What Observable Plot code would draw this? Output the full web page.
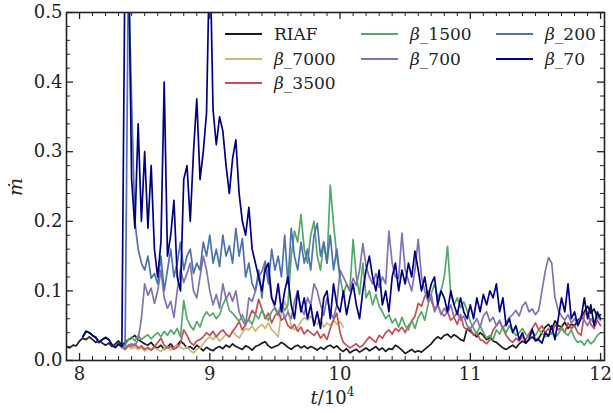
<!DOCTYPE html>
<html><head><meta charset="utf-8">
<script src="https://cdn.jsdelivr.net/npm/d3@7"></script>
<script src="https://cdn.jsdelivr.net/npm/@observablehq/plot@0.6"></script>
<style>
body{margin:0;background:#fff;}
#wrap{position:relative;width:613px;height:413px;font-family:"DejaVu Serif","Liberation Serif","Noto Serif",serif;color:#222;overflow:hidden;}
.leg{position:absolute;display:flex;align-items:center;font-size:17px;line-height:1;white-space:nowrap;}
.leg .sw{display:inline-block;width:37px;height:0;border-top:2px solid;margin-right:12px;}
.xl{position:absolute;left:0;width:613px;text-align:center;top:387px;font-size:18px;padding-left:52px;box-sizing:border-box;}
.yl{position:absolute;left:6px;top:176px;font-size:19px;font-style:italic;transform:rotate(-90deg);}
</style></head><body><div id="wrap"></div>
<script>
// time grid: start 7.9, step 0.025, 165 samples up to 12.0
const tStart = 7.9, tStep = 0.025;
const names = ["RIAF", "β_7000", "β_3500", "β_1500", "β_700", "β_200", "β_70"];
const colors = ["#1a1a1a", "#ccb974", "#c44e52", "#55a868", "#8172b2", "#4c72b0", "#000080"];

const riaf = [.020,.018,.022,.021,
 .028,.032,.030,.034,.030,.026,.028,.025,
 .022,.025,.020,.024,.028,.022,.026,.030,
 .032,.036,.030,.027,.024,.022,.026,.020,
 .018,.022,.016,.020,.024,.018,.022,.028,
 .024,.018,.020,.016,.022,.018,.014,.019,
 .016,.014,.018,.020,.017,.022,.019,.024,
 .020,.018,.016,.021,.019,.015,.020,.022,
 .025,.027,.021,.018,.020,.022,.026,.023,
 .019,.016,.020,.022,.018,.021,.017,.020,
 .018,.015,.019,.016,.020,.022,.018,.021,
 .016,.013,.017,.011,.014,.016,.012,.015,
 .018,.014,.017,.020,.015,.018,.013,.017,
 .016,.022,.019,.015,.010,.013,.016,.012,
 .014,.012,.016,.020,.024,.030,.034,.031,
 .036,.038,.033,.037,.034,.030,.028,.046,
 .042,.038,.034,.040,.036,.030,.033,.028,
 .026,.022,.018,.016,.019,.022,.018,.024,
 .028,.025,.030,.034,.029,.032,.040,.048,
 .052,.045,.057,.050,.048,.055,.046,.052,
 .050,.058,.062,.070,.078,.068,.074,.062,
 .066];

const b7000 = [null,null,null,null,
 null,.034,.042,.040,.036,.033,.026,.030,
 .033,.030,.022,.019,.022,.018,.016,.020,
 .017,.019,.016,.018,.014,.017,.015,.018,
 .016,.013,.017,.020,.015,.018,.022,.019,
 .016,.020,.014,.011,.016,.018,.024,.030,
 .034,.030,.036,.028,.032,.038,.034,.042,
 .036,.032,.040,.046,.044,.050,.042,.048,
 .052,.046,.054,.044,.040,.034,.070,.085,
 .072,.050,.044,.048,.056,.062,.058,.064,
 .056,.052,.060,.048,.054,.050,.058,.052,
 .056,.048,null,null,null,null,null,null,
 null,null,null,null,null,null,null,null,
 null,null,null,null,null,null,null,null,
 null,null,null,null,null,null,null,null,
 null,null,null,null,null,null,null,null,
 null,null,null,null,null,null,null,null,
 null,null,null,null,null,null,null,null,
 null,null,null,null,null,null,null,null,
 null,null,null,null,null,null,null,null,
 null,null,null,null,null,null,null,null,
 null];

const b3500 = [null,null,null,null,
 null,.034,.042,.040,.036,.033,.026,.030,
 .033,.030,.022,.019,.024,.020,.016,.022,
 .020,.024,.018,.021,.016,.019,.015,.020,
 .026,.032,.022,.018,.020,.016,.019,.025,
 .044,.036,.026,.022,.028,.030,.034,.040,
 .036,.042,.034,.040,.044,.038,.034,.042,
 .048,.056,.044,.052,.060,.072,.066,.088,
 .074,.060,.068,.054,.064,.070,.058,.062,
 .050,.046,.052,.042,.048,.038,.044,.040,
 .036,.042,.032,.038,.030,.046,.058,.068,
 .040,.026,.022,.018,.021,.024,.019,.022,
 .028,.034,.030,.026,.036,.032,.040,.044,
 .038,.046,.042,.048,.040,.050,.056,.064,
 .082,.078,.092,.100,.086,.074,.080,.068,
 .064,.070,.058,.062,.052,.066,.048,.044,
 .046,.036,.040,.030,.028,.024,.030,.044,
 .050,.056,.046,.036,.030,.026,.032,.028,
 .034,.030,.038,.046,.054,.044,.050,.040,
 .046,.038,.052,.044,.048,.040,.054,.046,
 .050,.040,.036,.066,.070,.052,.046,.058,
 .050];

const b1500 = [null,null,null,null,
 null,.034,.042,.040,.036,.033,.026,.030,
 .033,.030,.022,.019,.024,.020,.022,.030,
 .034,.028,.036,.030,.034,.037,.031,.036,
 .040,.034,.042,.036,.044,.038,.046,.034,
 .086,.060,.050,.044,.056,.048,.062,.070,
 .064,.068,.060,.066,.080,.090,.072,.068,
 .062,.056,.066,.054,.058,.052,.066,.060,
 .072,.064,.058,.070,.076,.068,.082,.072,
 .080,.150,.186,.170,.210,.160,.140,.180,
 .200,.150,.130,.170,.140,.252,.196,.150,
 .120,.095,.110,.100,.174,.120,.095,.140,
 .090,.100,.080,.095,.078,.070,.060,.066,
 .054,.060,.048,.062,.050,.044,.058,.046,
 .062,.070,.058,.080,.096,.110,.090,.100,
 .120,.164,.095,.080,.090,.076,.084,.072,
 .056,.046,.038,.050,.040,.032,.036,.030,
 .044,.038,.048,.040,.050,.042,.036,.040,
 .046,.038,.034,.042,.036,.044,.040,.034,
 .036,.040,.034,.038,.046,.040,.036,.044,
 .032,.026,.028,.022,.030,.024,.028,.036,
 .040];

const b700 = [null,null,null,null,
 null,.034,.042,.040,.036,.033,.026,.030,
 .033,.030,.022,.019,.024,.020,.018,.022,
 .024,.021,.030,.060,.110,.094,.104,.082,
 .100,.130,.090,.075,.085,.062,.100,.132,
 .112,.125,.140,.100,.090,.120,.150,.130,
 .100,.080,.095,.075,.110,.088,.098,.085,
 .100,.070,.058,.050,.090,.085,.100,.120,
 .128,.143,.120,.090,.075,.065,.080,.060,
 .070,.060,.085,.100,.075,.066,.090,.080,
 .110,.100,.080,.065,.090,.070,.060,.080,
 .130,.120,.110,.100,.118,.108,.130,.168,
 .135,.120,.110,.125,.105,.120,.110,.186,
 .140,.120,.118,.183,.130,.115,.100,.130,
 .174,.120,.100,.085,.095,.070,.080,.066,
 .075,.068,.080,.062,.070,.058,.064,.050,
 .046,.052,.060,.048,.064,.070,.056,.062,
 .050,.058,.046,.054,.062,.066,.072,.064,
 .078,.084,.070,.074,.066,.072,.100,.128,
 .148,.140,.090,.072,.064,.058,.066,.054,
 .060,.052,.064,.058,.050,.060,.054,.062,
 .058];

const b200 = [null,null,null,null,
 null,.034,.042,.040,.036,.033,.026,.030,
 .033,.030,.022,.019,.024,.020,.022,.560,
 .370,.200,.160,.140,.130,.150,.118,.125,
 .110,.150,.100,.130,.160,.120,.140,.170,
 .130,.150,.160,.125,.140,.130,.170,.150,
 .180,.140,.160,.135,.180,.150,.165,.140,
 .190,.150,.175,.120,.140,.110,.100,.130,
 .090,.140,.110,.160,.130,.150,.120,.180,
 .110,.190,.150,.130,.170,.140,.160,.130,
 .180,.197,.150,.170,.140,.180,.130,.160,
 .120,null,null,null,null,null,null,null,
 null,null,null,null,null,null,null,null,
 null,null,null,null,null,null,null,null,
 null,null,null,null,null,null,null,null,
 null,null,null,null,null,null,null,null,
 null,null,null,null,null,null,null,null,
 null,null,null,null,null,null,null,null,
 null,null,null,null,null,null,null,null,
 null,null,null,null,null,null,null,null,
 null,null,null,null,null,null,null,null,
 null];

const b70 = [null,null,null,null,
 null,.034,.042,.040,.036,.033,.026,.030,
 .033,.030,.022,.019,.024,.020,.600,.600,
 .260,.190,.340,.200,.300,.190,.280,.160,
 .120,.170,.400,.150,.180,.230,.120,.100,
 .260,.280,.200,.300,.376,.260,.300,.356,
 .600,.360,.310,.350,.330,.280,.240,.290,
 .317,.240,.200,.180,.220,.160,.140,.120,
 .100,.130,.140,.090,.080,.110,.070,.100,
 .120,.080,.060,.100,.070,.090,.060,.080,
 .050,.070,.046,.090,.100,.060,.110,.080,
 .070,.100,.066,.090,.110,.080,.060,.100,
 .130,.150,.120,.100,.130,.080,.100,.070,
 .120,.140,.100,.130,.110,.140,.120,.157,
 .130,.100,.120,.090,.110,.120,.080,.100,
 .090,.070,.100,.080,.066,.090,.070,.060,
 .080,.060,.090,.070,.095,.080,.100,.090,
 .110,.070,.090,.050,.060,.040,.050,.030,
 .040,.025,.030,.045,.028,.030,.025,.040,
 .035,.050,.030,.060,.090,.070,.110,.060,
 .070,.050,.060,.090,.060,.080,.050,.070,
 .060];

const seriesValues = [riaf, b7000, b3500, b1500, b700, b200, b70];
const xTickLabels = [8, 9, 10, 11, 12];
const yTickLabels = [0.0, 0.1, 0.2, 0.3, 0.4, 0.5];

const rows = [];
seriesValues.forEach((vals, s) => {
  vals.forEach((v, i) => rows.push({t: +(tStart + tStep * i).toFixed(3), v, name: names[s]}));
});

const xDom = [7.9, 12.03], yDom = [0, 0.5];
const W = 613, H = 413, mL = 66, mR = 9, mT = 12, mB = 53;
const xPerPx = (xDom[1] - xDom[0]) / (W - mL - mR);
const yPerPx = (yDom[1] - yDom[0]) / (H - mT - mB);
const xMinor = d3.range(79, 121).map(d => d / 10).filter(d => Math.abs(d - Math.round(d)) > 1e-6);
const yMinor = d3.range(1, 25).map(d => d / 50).filter(d => Math.abs(d * 10 - Math.round(d * 10)) > 1e-6);
const tickCol = "#222";
const serif = "'DejaVu Serif', 'Liberation Serif', 'Noto Serif', serif";

const chart = Plot.plot({
  width: W, height: H,
  marginLeft: mL, marginRight: mR, marginTop: mT, marginBottom: mB,
  style: {fontFamily: serif, fontSize: "18px", color: "#222", background: "#fff"},
  x: {domain: xDom},
  y: {domain: yDom},
  color: {domain: names, range: colors},
  marks: [
    Plot.line(rows, {x: "t", y: "v", z: "name", stroke: "name", strokeWidth: 1.7, clip: true, curve: "linear"}),
    Plot.ruleX(xTickLabels, {x: d => d, y1: 0, y2: 7 * yPerPx, stroke: tickCol, strokeWidth: 1.3}),
    Plot.ruleX(xTickLabels, {x: d => d, y1: 0.5 - 7 * yPerPx, y2: 0.5, stroke: tickCol, strokeWidth: 1.3}),
    Plot.ruleX(xMinor, {x: d => d, y1: 0, y2: 4 * yPerPx, stroke: tickCol, strokeWidth: 1}),
    Plot.ruleX(xMinor, {x: d => d, y1: 0.5 - 4 * yPerPx, y2: 0.5, stroke: tickCol, strokeWidth: 1}),
    Plot.ruleY(yTickLabels, {y: d => d, x1: xDom[0], x2: xDom[0] + 7 * xPerPx, stroke: tickCol, strokeWidth: 1.3}),
    Plot.ruleY(yTickLabels, {y: d => d, x1: xDom[1] - 7 * xPerPx, x2: xDom[1], stroke: tickCol, strokeWidth: 1.3}),
    Plot.ruleY(yMinor, {y: d => d, x1: xDom[0], x2: xDom[0] + 4 * xPerPx, stroke: tickCol, strokeWidth: 1}),
    Plot.ruleY(yMinor, {y: d => d, x1: xDom[1] - 4 * xPerPx, x2: xDom[1], stroke: tickCol, strokeWidth: 1}),
    Plot.axisX({ticks: xTickLabels, tickSize: 0, tickPadding: 7, label: null, tickFormat: d => String(d), fontSize: 18, fontFamily: serif}),
    Plot.axisY({ticks: yTickLabels, tickSize: 0, tickPadding: 4, label: null, tickFormat: d3.format(".1f"), fontSize: 18, fontFamily: serif}),
    Plot.frame({stroke: "#222", strokeWidth: 1.6})
  ]
});

const wrap = document.getElementById("wrap");
wrap.appendChild(chart);

const colX = [225, 361, 496];
const rowY = [34, 59, 83];
const place = [[0,0],[0,1],[0,2],[1,0],[1,1],[2,0],[2,1]];
names.forEach((n, i) => {
  const [c, r] = place[i];
  const el = document.createElement("div");
  el.className = "leg";
  el.style.left = colX[c] + "px";
  el.style.top = (rowY[r] - 10) + "px";
  el.style.height = "20px";
  const label = n.startsWith("β") ? `<i>β</i>${n.slice(1)}` : n;
  el.innerHTML = `<span class="sw" style="border-color:${colors[i]}"></span><span>${label}</span>`;
  wrap.appendChild(el);
});

const xl = document.createElement("div");
xl.className = "xl";
xl.innerHTML = `<i>t</i>/10<sup style="font-size:12px;vertical-align:8px;line-height:0">4</sup>`;
wrap.appendChild(xl);
const yl = document.createElement("div");
yl.className = "yl";
yl.textContent = "ṁ";
wrap.appendChild(yl);
</script>
</body></html>
